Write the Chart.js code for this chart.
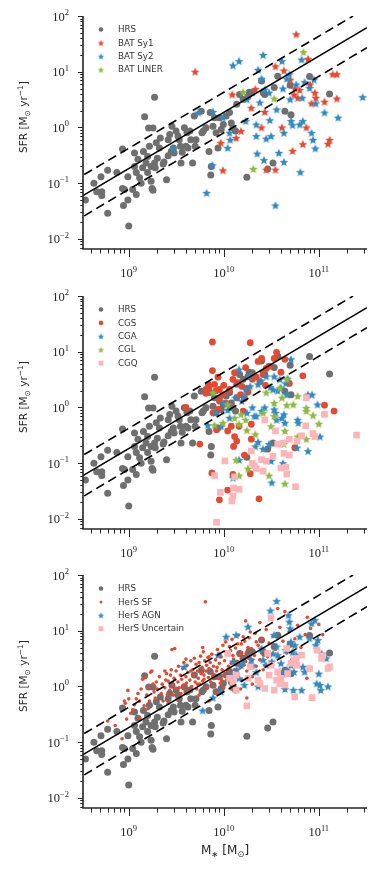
<!DOCTYPE html>
<html>
<head>
<meta charset="utf-8">
<title>SFR vs stellar mass</title>
<script src="https://cdn.jsdelivr.net/npm/chart.js@4.4.1/dist/chart.umd.min.js"></script>
<style>
  html, body { margin: 0; padding: 0; background: #fff; }
  body { position: relative; width: 377px; height: 872px; overflow: hidden; }
  .panel { position: absolute; left: 0; }
</style>
</head>
<body>
<canvas id="panel1" class="panel" width="377" height="290" style="top:0"></canvas>
<canvas id="panel2" class="panel" width="377" height="290" style="top:280px"></canvas>
<canvas id="panel3" class="panel" width="377" height="313" style="top:559px"></canvas>
<script>
// ---- data (stellar mass in Msun, SFR in Msun/yr) ----

// HRS reference sample, shown in every panel
const hrsMass = [3.5e8, 4.3e8, 4.6e8, 5.1e8, 5.2e8, 5.2e8, 6.0e8, 6.0e8, 7.5e8, 8.6e8,
  8.6e8, 8.8e8, 9.0e8, 1.0e9, 9.8e8, 9.8e8, 1.1e9, 1.15e9, 1.15e9, 1.2e9,
  1.2e9, 1.25e9, 1.3e9, 1.35e9, 1.4e9, 1.43e9, 1.47e9, 1.52e9, 1.58e9, 1.58e9,
  1.62e9, 1.65e9, 1.72e9, 1.72e9, 1.76e9, 1.8e9, 1.8e9, 1.87e9, 1.87e9, 1.9e9,
  1.95e9, 2.0e9, 2.1e9, 2.15e9, 2.3e9, 2.35e9, 2.5e9, 2.6e9, 2.6e9, 2.7e9,
  2.8e9, 2.85e9, 2.95e9, 3.0e9, 3.15e9, 3.3e9, 3.4e9, 3.5e9, 3.55e9, 3.65e9,
  3.85e9, 4.0e9, 4.1e9, 4.2e9, 4.4e9, 4.5e9, 4.7e9, 4.9e9, 5.0e9, 5.1e9,
  5.8e9, 5.9e9, 6.1e9, 6.5e9, 7.0e9, 7.2e9, 7.3e9, 7.4e9, 7.7e9, 8.0e9,
  8.3e9, 8.7e9, 9.0e9, 9.4e9, 9.9e9, 1.06e10, 1.15e10, 1.2e10, 1.25e10, 1.33e10,
  1.37e10, 1.47e10, 1.6e10, 1.8e10, 1.75e10, 1.85e10, 2.0e10, 2.5e10, 2.6e10, 2.7e10,
  3.3e10, 3.4e10, 3.7e10, 4.4e10, 5.0e10, 5.1e10, 8.0e10, 1.3e11, 2.9e10];
const hrsSfr = [0.05, 0.10, 0.07, 0.13, 0.07, 0.06, 0.17, 0.029, 0.155, 0.41,
  0.08, 0.04, 0.077, 0.017, 0.05, 0.13, 0.077, 0.2, 0.35, 0.155,
  0.063, 0.27, 0.125, 0.1, 0.19, 0.37, 1.55, 0.23, 0.3, 0.155,
  0.98, 0.46, 0.2, 0.108, 0.08, 0.075, 0.98, 3.5, 0.23, 0.19,
  0.53, 0.28, 0.43, 0.65, 0.22, 0.24, 0.115, 0.6, 0.31, 0.75,
  0.37, 1.05, 0.43, 0.35, 0.86, 0.7, 0.6, 0.46, 0.23, 0.36,
  0.99, 0.46, 0.8, 0.43, 0.86, 0.6, 0.23, 1.6, 0.46, 0.6,
  1.95, 0.8, 0.86, 0.99, 0.37, 1.85, 0.14, 0.2, 1.05, 1.5,
  0.8, 0.43, 1.5, 0.92, 1.13, 1.6, 1.85, 1.2, 0.98, 0.86,
  2.6, 3.9, 3.2, 3.6, 0.128, 4.3, 4.2, 6.8, 4.2, 3.9,
  0.23, 5.2, 8.3, 1.95, 5.7, 1.7, 8.2, 4.0, 0.18];

// panel 1: BAT AGN
const sy1Mass = [5.0e9, 1.23e10, 9.3e9, 9.8e9, 1.35e10, 1.52e10, 1.95e10, 2.15e10, 2.5e10, 2.7e10,
  2.8e10, 3.5e10, 3.5e10, 4.1e10, 4.3e10, 5.0e10, 5.3e10, 5.5e10, 5.6e10, 5.8e10,
  6.0e10, 6.3e10, 6.8e10, 7.4e10, 7.7e10, 8.1e10, 8.4e10, 9.1e10, 9.3e10, 1.15e11,
  1.25e11, 1.3e11, 1.4e11, 1.55e11, 1.55e11];
const sy1Sfr = [10, 3.9, 0.53, 0.17, 0.65, 0.86, 2.25, 4.9, 1.0, 1.9,
  0.175, 0.175, 12.5, 1.0, 10.5, 7.2, 0.38, 3.9, 5.0, 47,
  3.4, 4.7, 0.5, 1.0, 17, 5.9, 2.7, 4.2, 3.4, 2.9,
  0.51, 0.6, 9.0, 9.0, 3.3];
const sy2Mass = [2.95e9, 5.4e9, 6.6e9, 7.6e9, 7.7e9, 9.8e9, 1.1e10, 1.15e10, 1.17e10, 1.25e10,
  1.45e10, 1.7e10, 1.75e10, 2.2e10, 2.2e10, 2.25e10, 2.3e10, 2.4e10, 2.5e10, 2.6e10,
  2.65e10, 2.7e10, 2.8e10, 3.0e10, 3.05e10, 3.15e10, 3.5e10, 3.6e10, 3.8e10, 4.1e10,
  4.2e10, 4.3e10, 4.3e10, 4.6e10, 4.9e10, 5.0e10, 5.1e10, 5.3e10, 5.8e10, 6.3e10,
  6.4e10, 6.6e10, 6.7e10, 6.8e10, 7.1e10, 8.0e10, 8.4e10, 8.7e10, 8.9e10, 9.2e10,
  9.3e10, 1.15e11, 1.6e11, 2.9e11];
const sy2Sfr = [0.42, 1.85, 0.067, 0.21, 1.9, 1.5, 0.43, 0.8, 0.6, 13,
  15.5, 1.3, 3.2, 0.7, 1.13, 0.34, 10.8, 2.8, 7.5, 20,
  0.26, 4.8, 0.63, 4.2, 1.35, 0.7, 0.04, 2.1, 0.35, 15.5,
  5.0, 0.8, 0.24, 7.5, 9.0, 3.2, 1.3, 1.1, 5.9, 1.13,
  0.158, 16.5, 3.4, 1.3, 6.5, 5.1, 0.8, 0.6, 7.2, 0.42,
  2.7, 1.85, 1.5, 3.5];
const linerMass = [1.6e10, 2.05e10, 3.4e10, 6.9e10];
const linerSfr = [4.3, 0.18, 3.3, 22.5];

// panel 2: CG sample
const cgsMass = [5.6e9, 6.5e9, 7.6e9, 7.6e9, 7.5e9, 8.7e9, 8.3e9, 9.0e9, 8.4e9, 9.0e9,
  1.1e10, 1.0e10, 1.05e10, 1.1e10, 1.2e10, 1.25e10, 1.27e10, 1.3e10, 1.3e10, 1.37e10,
  1.4e10, 1.65e10, 1.7e10, 1.75e10, 1.65e10, 1.9e10, 1.9e10, 1.95e10, 1.95e10, 2.0e10,
  2.3e10, 2.35e10, 2.5e10, 2.6e10, 2.75e10, 2.8e10, 3.0e10, 3.4e10, 3.6e10, 4.0e10,
  4.4e10, 4.9e10, 6.8e10, 1.15e11, 1.45e11, 5.6e10, 6.5e9, 8.0e9, 9.0e9, 9.8e9,
  1.15e10, 1.25e10, 1.5e10, 1.6e10, 1.45e10, 1.37e10, 7.7e9, 8.7e9, 6.9e9, 7.0e9,
  1.55e10, 1.8e10, 2.2e10, 2.4e10, 1.2e10, 4.0e9];
const cgsSfr = [0.22, 2.1, 15, 4.6, 0.067, 3.5, 2.0, 1.3, 0.4, 0.022,
  0.033, 2.5, 1.2, 0.38, 0.46, 0.063, 0.2, 0.3, 4.2, 1.5,
  2.8, 1.45, 5.2, 2.2, 0.14, 0.065, 14.5, 0.27, 0.5, 3.2,
  6.7, 0.023, 7.6, 3.9, 2.5, 5.0, 5.5, 7.6, 9.7, 4.3,
  7.3, 2.7, 3.7, 1.1, 0.86, 0.19, 1.8, 2.6, 2.1, 1.7,
  2.1, 3.2, 1.7, 0.86, 0.46, 0.25, 0.8, 0.92, 2.6, 2.3,
  2.4, 1.9, 3.5, 2.9, 1.05, 1.0];
const cgaMass = [6.8e9, 8.3e9, 9.4e9, 1.15e10, 1.2e10, 1.25e10, 1.33e10, 1.45e10, 1.45e10, 1.65e10,
  1.7e10, 1.85e10, 2.0e10, 2.1e10, 2.15e10, 2.3e10, 2.45e10, 2.5e10, 2.6e10, 2.8e10,
  3.0e10, 3.15e10, 3.2e10, 3.3e10, 3.4e10, 3.4e10, 3.6e10, 3.9e10, 4.0e10, 4.3e10,
  4.4e10, 4.2e10, 4.5e10, 4.6e10, 5.1e10, 5.9e10, 6.0e10, 6.1e10, 7.7e10, 7.7e10,
  8.5e10, 9.7e10, 1.03e11, 4.7e10, 1.0e10, 1.1e10, 1.55e10, 1.9e10, 2.2e10, 2.7e10,
  3.1e10, 3.5e10, 3.7e10, 4.1e10, 2.3e10, 1.75e10];
const cgaSfr = [0.48, 0.8, 0.46, 0.65, 1.0, 0.055, 1.5, 0.115, 4.8, 1.6,
  2.1, 3.6, 1.0, 0.7, 0.2, 0.24, 3.0, 0.86, 0.18, 3.6,
  0.22, 0.11, 0.045, 2.1, 3.6, 0.92, 0.6, 3.2, 2.25, 0.75,
  0.53, 0.1, 2.7, 1.7, 7.3, 0.19, 0.6, 0.53, 0.165, 1.7,
  1.7, 1.13, 0.3, 3.3, 1.2, 0.9, 1.3, 2.4, 0.7, 1.0,
  2.3, 0.8, 2.0, 0.65, 2.6, 0.8];
const cglMass = [7.7e9, 8.0e9, 9.8e9, 1.1e10, 1.3e10, 1.35e10, 1.45e10, 1.52e10, 1.45e10, 1.7e10,
  1.8e10, 1.75e10, 2.15e10, 2.6e10, 2.8e10, 3.0e10, 3.15e10, 3.4e10, 3.4e10, 3.9e10,
  4.1e10, 4.3e10, 4.4e10, 4.4e10, 4.6e10, 4.6e10, 5.4e10, 6.0e10, 6.0e10, 7.4e10,
  7.4e10, 7.4e10, 8.7e10, 1.0e11];
const cglSfr = [1.85, 0.48, 0.53, 1.13, 0.65, 0.115, 0.06, 0.75, 0.5, 0.6,
  0.08, 0.39, 0.33, 0.8, 1.85, 0.06, 0.46, 1.2, 0.7, 2.25,
  1.5, 0.22, 0.043, 0.38, 3.2, 1.1, 1.13, 1.6, 0.3, 0.98,
  0.86, 0.27, 0.72, 0.51];
const cgqMass = [8.0e9, 8.4e9, 9.2e9, 1.03e10, 1.22e10, 1.25e10, 1.27e10, 1.3e10, 1.45e10, 1.95e10,
  2.0e10, 2.1e10, 2.2e10, 2.5e10, 2.6e10, 2.7e10, 2.8e10, 3.3e10, 3.5e10, 3.7e10,
  4.0e10, 4.2e10, 4.3e10, 4.5e10, 4.6e10, 4.9e10, 4.9e10, 5.7e10, 5.9e10, 6.6e10,
  7.3e10, 7.4e10, 8.7e10, 9.1e10, 1.15e11, 2.5e11];
const cgqSfr = [0.06, 0.0087, 0.03, 0.11, 0.021, 0.026, 0.036, 0.057, 0.034, 0.165,
  0.1, 0.09, 0.08, 0.116, 0.072, 0.6, 0.109, 0.133, 0.38, 0.22,
  0.082, 0.23, 0.15, 0.085, 0.064, 0.14, 0.27, 0.038, 0.25, 0.31,
  0.47, 1.5, 0.34, 0.3, 0.75, 0.32];

// panel 3: HerS
const sfMass = [6.0e8, 7.2e8, 8.5e8, 9.0e8, 9.2e8, 9.8e8, 1.0e9, 1.05e9, 1.1e9, 9.5e8,
  1.15e9, 1.2e9, 1.25e9, 1.3e9, 1.35e9, 1.4e9, 1.45e9, 1.5e9, 1.55e9, 1.6e9,
  1.65e9, 1.7e9, 1.75e9, 1.8e9, 1.85e9, 1.9e9, 1.95e9, 2.0e9, 1.3e9, 1.6e9,
  2.1e9, 2.2e9, 2.25e9, 2.3e9, 2.4e9, 2.45e9, 2.5e9, 2.55e9, 2.6e9, 2.7e9,
  2.75e9, 2.8e9, 2.85e9, 2.9e9, 2.95e9, 3.0e9, 3.05e9, 3.1e9, 3.15e9, 2.4e9, 2.6e9,
  3.3e9, 3.35e9, 3.4e9, 3.5e9, 3.55e9, 3.6e9, 3.7e9, 3.75e9, 3.8e9, 3.9e9,
  4.0e9, 4.05e9, 4.1e9, 4.2e9, 4.3e9, 4.4e9, 4.5e9, 4.6e9, 4.7e9, 4.8e9,
  4.9e9, 5.0e9, 3.3e9, 4.0e9,
  5.1e9, 5.2e9, 5.3e9, 5.4e9, 5.5e9, 5.6e9, 5.7e9, 5.8e9, 5.9e9, 6.0e9,
  6.1e9, 6.2e9, 6.3e9, 6.4e9, 6.5e9, 6.6e9, 6.7e9, 6.8e9, 6.9e9, 7.0e9,
  7.2e9, 7.3e9, 7.5e9, 7.6e9, 7.8e9, 8.0e9, 5.5e9, 6.0e9, 7.0e9,
  8.2e9, 8.4e9, 8.6e9, 8.8e9, 9.0e9, 9.2e9, 9.4e9, 9.6e9, 9.8e9, 1.0e10,
  1.02e10, 1.05e10, 1.07e10, 1.1e10, 1.12e10, 1.15e10, 1.18e10, 1.2e10, 1.22e10, 1.25e10,
  1.27e10, 1.3e10, 8.5e9, 1.0e10,
  1.33e10, 1.36e10, 1.4e10, 1.43e10, 1.46e10, 1.5e10, 1.53e10, 1.56e10, 1.6e10, 1.63e10,
  1.66e10, 1.7e10, 1.72e10, 1.75e10, 1.8e10, 1.85e10, 1.9e10, 1.95e10, 2.0e10, 1.5e10,
  1.75e10, 7.5e10, 2.0e10, 1.2e10,
  2.1e10, 2.15e10, 2.2e10, 2.3e10, 2.4e10, 2.5e10, 2.6e10, 2.7e10, 2.8e10, 2.9e10,
  3.0e10, 3.1e10, 3.3e10, 3.5e10, 3.7e10, 3.8e10, 3.9e10, 2.4e10,
  4.2e10, 4.4e10, 4.6e10, 4.9e10, 5.2e10, 5.6e10, 6.0e10, 6.5e10, 7.2e10, 7.6e10,
  8.2e10, 9.5e10, 1.1e11, 1.0e11,
  8.5e9, 9.0e9, 9.5e9, 1.05e10, 1.1e10, 1.15e10, 1.25e10, 1.3e10, 1.4e10, 1.45e10,
  1.55e10, 1.6e10, 1.7e10, 1.8e10, 1.9e10, 2.0e10, 2.2e10, 2.5e10, 2.7e10, 3.0e10,
  6.2e9, 7.0e9, 7.7e9, 5.3e9, 4.5e9];
const sfSfr = [0.24, 0.2, 0.115, 0.55, 0.5, 0.85, 0.6, 0.33, 0.38, 0.26,
  0.47, 0.6, 0.75, 0.27, 0.9, 1.35, 0.45, 1.45, 0.7, 0.96,
  0.55, 1.8, 1.9, 1.1, 0.8, 0.62, 1.2, 0.9, 0.55, 0.4,
  1.5, 0.75, 1.1, 0.55, 0.95, 1.3, 1.7, 0.7, 1.25, 0.85,
  1.6, 2.0, 4.6, 1.05, 0.7, 1.4, 4.8, 0.9, 1.9, 1.9, 0.5,
  1.2, 2.3, 0.95, 1.6, 0.75, 1.35, 2.1, 1.05, 2.7, 0.9,
  1.5, 1.15, 2.4, 1.8, 0.8, 1.3, 2.9, 1.0, 2.0, 1.6,
  3.2, 1.2, 0.6, 3.1,
  2.5, 0.9, 1.9, 1.4, 2.7, 1.1, 3.5, 1.7, 2.2, 1.25,
  4.2, 1.6, 2.9, 33, 1.9, 2.4, 0.95, 3.3, 1.45, 2.1,
  2.7, 1.2, 3.8, 1.7, 2.3, 1.0, 0.7, 5.0, 0.55,
  3.0, 1.9, 4.6, 1.4, 2.6, 1.15, 3.4, 2.0, 5.5, 1.6,
  2.9, 6.3, 1.3, 3.8, 2.3, 1.8, 4.4, 2.6, 7.0, 1.5,
  3.1, 2.0, 0.75, 0.95,
  4.9, 2.7, 1.7, 8.4, 3.6, 2.2, 5.8, 1.3, 3.1, 2.4,
  6.5, 15, 4.0, 1.9, 3.3, 7.5, 2.6, 4.8, 1.5, 0.9,
  0.62, 1.4, 1.1, 0.9,
  3.6, 9.0, 2.3, 5.5, 3.0, 7.0, 2.0, 4.2, 10.5, 3.4,
  6.0, 2.6, 8.0, 4.6, 25, 3.3, 11.5, 14,
  6.5, 22, 4.0, 9.5, 3.0, 7.2, 12.5, 5.0, 8.5, 17.5,
  11, 6.0, 8.5, 13,
  2.2, 3.8, 1.3, 4.2, 2.0, 5.2, 3.6, 1.6, 5.8, 2.4,
  4.0, 7.8, 2.8, 5.0, 9.5, 3.0, 6.3, 4.5, 2.4, 3.9,
  1.35, 3.4, 1.45, 1.1, 1.9];
const agnMass = [3.85e9, 6.0e9, 7.7e9, 8.7e9, 9.4e9, 1.06e10, 1.2e10, 1.25e10, 1.35e10, 1.37e10,
  1.45e10, 1.52e10, 1.6e10, 1.65e10, 1.8e10, 1.95e10, 2.0e10, 2.2e10, 2.3e10, 2.5e10,
  2.6e10, 2.8e10, 3.1e10, 3.2e10, 3.3e10, 3.4e10, 3.6e10, 3.6e10, 3.7e10, 3.9e10,
  4.0e10, 4.2e10, 4.4e10, 4.5e10, 4.6e10, 4.8e10, 4.9e10, 5.0e10, 5.1e10, 5.3e10,
  5.4e10, 5.5e10, 5.6e10, 5.8e10, 6.3e10, 6.6e10, 6.8e10, 7.1e10, 8.0e10, 8.4e10,
  9.1e10, 9.3e10, 9.5e10, 9.8e10, 1.0e11, 1.03e11, 1.05e11, 1.07e11, 1.2e11, 1.25e11,
  5.1e10];
const agnSfr = [2.25, 0.37, 0.63, 3.65, 0.8, 7.8, 1.6, 2.8, 8.4, 2.0,
  1.4, 2.4, 2.8, 1.06, 11.8, 3.0, 2.4, 1.8, 1.0, 4.8,
  3.0, 2.4, 23, 2.8, 3.9, 8.4, 34, 5.2, 3.65, 1.83,
  2.6, 1.7, 0.9, 4.5, 2.0, 19, 14.5, 11, 6.3, 4.1,
  0.86, 1.83, 5.5, 3.65, 7.8, 0.86, 2.25, 1.83, 7.3, 13.5,
  15.5, 5.5, 1.13, 6.8, 1.7, 1.06, 0.86, 3.9, 3.2, 1.0,
  2.4];
const uncMass = [3.15e10, 1.1e10, 1.15e10, 1.25e10, 1.35e10, 1.35e10, 1.75e10, 1.8e10, 2.3e10, 2.4e10,
  2.7e10, 2.9e10, 3.0e10, 3.15e10, 3.4e10, 3.6e10, 3.7e10, 3.9e10, 4.0e10, 4.4e10,
  4.6e10, 4.7e10, 5.1e10, 5.5e10, 5.6e10, 5.8e10, 5.9e10, 6.6e10, 8.0e10, 8.5e10,
  9.6e10, 1.07e11, 1.1e11, 1.25e11, 1.3e11, 1.9e10];
const uncSfr = [17, 3.9, 1.4, 1.2, 1.6, 0.86, 0.45, 1.4, 1.3, 1.13,
  0.92, 3.9, 1.6, 2.4, 0.86, 1.3, 1.83, 1.13, 1.4, 1.06,
  4.8, 1.7, 2.6, 3.0, 0.65, 3.2, 2.4, 3.65, 2.1, 0.63,
  4.5, 3.2, 3.55, 2.1, 2.25, 2.25];

// main-sequence relation and its scatter (end points)
const fitMass = [3.3e8, 3.22e11];
const fitSfr = [0.06, 62];
const upperMass = [3.4e8, 2.3e11];
const upperSfr = [0.143, 100];
const lowerMass = [3.4e8, 3.22e11];
const lowerSfr = [0.026, 27];

// axes
const massRange = [3.3e8, 3.22e11];
const sfrRange = [0.0066, 100];
const xTickVals = [1e9, 1e10, 1e11];
const xTickExp = ['9', '10', '11'];
const yTickVals = [1e-2, 1e-1, 1, 10, 100];
const yTickExp = ['\u22122', '\u22121', '0', '1', '2'];

// ---- styling ----
const GRAY = '#6f6f6f', RED = '#E24A33', BLUE = '#348ABD', GREEN = '#8EBA42', PINK = '#FFB5B8';
const INK = '#262626';
const SANS = '"DejaVu Sans", sans-serif';
const SERIF = '"Liberation Serif", "DejaVu Serif", serif';

function pts(xs, ys) {
  return xs.map((x, i) => ({ x: x, y: ys[i] }));
}

function starImage(color, r) {
  const size = Math.ceil(2 * r + 2);
  const c = document.createElement('canvas');
  c.width = size;
  c.height = size;
  const g = c.getContext('2d');
  g.fillStyle = color;
  g.beginPath();
  for (let i = 0; i < 10; i++) {
    const rr = i % 2 === 0 ? r : r * 0.45;
    const a = -Math.PI / 2 + i * Math.PI / 5;
    g.lineTo(size / 2 + rr * Math.cos(a), size / 2 + rr * Math.sin(a) + 0.4);
  }
  g.closePath();
  g.fill();
  return c;
}

const stars = {
  red: starImage(RED, 4.6), blue: starImage(BLUE, 4.6), green: starImage(GREEN, 4.6),
  redS: starImage(RED, 3.4), blueS: starImage(BLUE, 3.4), greenS: starImage(GREEN, 3.4)
};

function markers(label, xs, ys, color, style, radius, order) {
  return {
    label: label, data: pts(xs, ys), pointStyle: style, pointRadius: radius,
    backgroundColor: color, borderWidth: 0, order: order, clip: 0
  };
}

function fitLine(xs, ys, dash) {
  return {
    data: pts(xs, ys), showLine: true, borderColor: '#000', borderWidth: 1.6,
    borderDash: dash, pointRadius: 0, order: 0, clip: 0
  };
}

// text with sub/superscripts, drawn left to right from (x, y) baseline
function richWidth(ctx, parts) {
  let w = 0;
  parts.forEach(p => { ctx.font = p.size + 'px ' + p.family; w += ctx.measureText(p.t).width; });
  return w;
}
function drawRich(ctx, parts, x, y) {
  let cx = x;
  parts.forEach(p => {
    ctx.font = p.size + 'px ' + p.family;
    ctx.fillText(p.t, cx, y + (p.dy || 0));
    cx += ctx.measureText(p.t).width;
  });
}
function powerLabel(exp) {
  return [{ t: '10', size: 12.5, family: SERIF }, { t: exp, size: 8.5, family: SERIF, dy: -5.5 }];
}

const yTitle = [
  { t: 'SFR [M', size: 10.5, family: SANS },
  { t: '\u2299', size: 7.5, family: SANS, dy: 2.5 },
  { t: ' yr', size: 10.5, family: SANS },
  { t: '\u22121', size: 7.5, family: SANS, dy: -4.5 },
  { t: ']', size: 10.5, family: SANS }
];
const xTitle = [
  { t: 'M', size: 12, family: SANS },
  { t: '\u2217', size: 8.5, family: SANS, dy: 3 },
  { t: ' [M', size: 12, family: SANS },
  { t: '\u2299', size: 8.5, family: SANS, dy: 3 },
  { t: ']', size: 12, family: SANS }
];

// spines, log ticks, tick labels, axis titles and the legend
const decor = {
  id: 'decor',
  afterDraw(chart, args, opts) {
    const ctx = chart.ctx, a = chart.chartArea, xs = chart.scales.x, ys = chart.scales.y;
    ctx.save();
    ctx.strokeStyle = INK;
    ctx.fillStyle = INK;
    ctx.lineWidth = 1;

    // y ticks
    for (let k = -3; k <= 2; k++) {
      for (let m = 1; m <= 9; m++) {
        const v = m * Math.pow(10, k);
        if (v < sfrRange[0] || v > sfrRange[1] * 1.0001) continue;
        const py = Math.round(ys.getPixelForValue(v)) + 0.5;
        const len = m === 1 ? 5 : 2.8;
        ctx.beginPath(); ctx.moveTo(a.left, py); ctx.lineTo(a.left - len, py); ctx.stroke();
      }
    }
    // x ticks
    for (let k = 8; k <= 11; k++) {
      for (let m = 1; m <= 9; m++) {
        const v = m * Math.pow(10, k);
        if (v < massRange[0] || v > massRange[1]) continue;
        const px = Math.round(xs.getPixelForValue(v)) + 0.5;
        const len = m === 1 ? 8 : 4.5;
        ctx.beginPath(); ctx.moveTo(px, a.bottom); ctx.lineTo(px, a.bottom + len); ctx.stroke();
      }
    }
    // spines
    ctx.lineWidth = 1.6;
    ctx.beginPath();
    ctx.moveTo(a.left, a.top);
    ctx.lineTo(a.left, a.bottom);
    ctx.lineTo(a.right, a.bottom);
    ctx.stroke();

    ctx.textAlign = 'left';
    ctx.textBaseline = 'alphabetic';
    // y tick labels
    yTickVals.forEach((v, i) => {
      const parts = powerLabel(yTickExp[i]);
      const w = richWidth(ctx, parts);
      drawRich(ctx, parts, a.left - 14 - w, ys.getPixelForValue(v) + 4.5);
    });
    // x tick labels
    xTickVals.forEach((v, i) => {
      const parts = powerLabel(xTickExp[i]);
      const w = richWidth(ctx, parts);
      drawRich(ctx, parts, xs.getPixelForValue(v) - w / 2, a.bottom + 28);
    });

    // y title
    ctx.save();
    ctx.translate(27, a.top + 101);
    ctx.rotate(-Math.PI / 2);
    drawRich(ctx, yTitle, -richWidth(ctx, yTitle) / 2, 0);
    ctx.restore();

    // x title (bottom panel only)
    if (opts.xTitle) {
      drawRich(ctx, xTitle, (a.left + a.right) / 2 - richWidth(ctx, xTitle) / 2, a.bottom + 46);
    }

    // legend
    (opts.legend || []).forEach((item, i) => {
      const ly = a.top + 13.5 + i * 13.4;
      ctx.fillStyle = item.color;
      Chart.helpers.drawPoint(ctx, { pointStyle: item.style, radius: item.radius, rotation: 0, borderWidth: 0 }, 101, ly);
      ctx.fillStyle = '#333';
      ctx.font = '8.7px ' + SANS;
      ctx.textBaseline = 'middle';
      ctx.fillText(item.label, 118, ly + 0.5);
      ctx.textBaseline = 'alphabetic';
    });
    ctx.restore();
  }
};

function makePanel(id, datasets, legend, xAxisHeight, withXTitle) {
  return new Chart(document.getElementById(id), {
    type: 'scatter',
    data: { datasets: datasets },
    options: {
      responsive: false,
      animation: false,
      devicePixelRatio: 1,
      events: [],
      layout: { padding: { top: 16, right: 10, left: 0, bottom: 0 } },
      scales: {
        x: {
          type: 'logarithmic', min: massRange[0], max: massRange[1], bounds: 'data',
          grid: { display: false, drawTicks: false }, border: { display: false },
          ticks: { display: false },
          afterFit: s => { s.height = xAxisHeight; }
        },
        y: {
          type: 'logarithmic', min: sfrRange[0], max: sfrRange[1], bounds: 'data',
          grid: { display: false, drawTicks: false }, border: { display: false },
          ticks: { display: false },
          afterFit: s => { s.width = 83; }
        }
      },
      plugins: {
        legend: { display: false },
        tooltip: { enabled: false },
        decor: { legend: legend, xTitle: withXTitle }
      }
    },
    plugins: [decor]
  });
}

function lines() {
  return [fitLine(fitMass, fitSfr, []), fitLine(upperMass, upperSfr, [9, 5]), fitLine(lowerMass, lowerSfr, [9, 5])];
}

const hrsLegend = { label: 'HRS', color: GRAY, style: 'circle', radius: 2.3 };

makePanel('panel1', [
  markers('HRS', hrsMass, hrsSfr, GRAY, 'circle', 3.5, 5),
  markers('BAT Sy1', sy1Mass, sy1Sfr, RED, stars.red, 4, 4),
  markers('BAT Sy2', sy2Mass, sy2Sfr, BLUE, stars.blue, 4, 3),
  markers('BAT LINER', linerMass, linerSfr, GREEN, stars.green, 4, 2)
].concat(lines()), [
  hrsLegend,
  { label: 'BAT Sy1', color: RED, style: stars.redS, radius: 3 },
  { label: 'BAT Sy2', color: BLUE, style: stars.blueS, radius: 3 },
  { label: 'BAT LINER', color: GREEN, style: stars.greenS, radius: 3 }
], 41, false);

makePanel('panel2', [
  markers('HRS', hrsMass, hrsSfr, GRAY, 'circle', 3.5, 6),
  markers('CGS', cgsMass, cgsSfr, RED, 'circle', 3.4, 5),
  markers('CGA', cgaMass, cgaSfr, BLUE, stars.blue, 4, 4),
  markers('CGL', cglMass, cglSfr, GREEN, stars.green, 4, 3),
  markers('CGQ', cgqMass, cgqSfr, PINK, 'rect', 4.7, 2)
].concat(lines()), [
  hrsLegend,
  { label: 'CGS', color: RED, style: 'circle', radius: 2.3 },
  { label: 'CGA', color: BLUE, style: stars.blueS, radius: 3 },
  { label: 'CGL', color: GREEN, style: stars.greenS, radius: 3 },
  { label: 'CGQ', color: PINK, style: 'rect', radius: 3.4 }
], 41, false);

makePanel('panel3', [
  markers('HRS', hrsMass, hrsSfr, GRAY, 'circle', 3.5, 5),
  markers('HerS SF', sfMass, sfSfr, RED, 'circle', 1.8, 4),
  markers('HerS AGN', agnMass, agnSfr, BLUE, stars.blue, 4, 3),
  markers('HerS Uncertain', uncMass, uncSfr, PINK, 'rect', 4.7, 2)
].concat(lines()), [
  hrsLegend,
  { label: 'HerS SF', color: RED, style: 'circle', radius: 1.5 },
  { label: 'HerS AGN', color: BLUE, style: stars.blueS, radius: 3 },
  { label: 'HerS Uncertain', color: PINK, style: 'rect', radius: 3.4 }
], 64, true);
</script>
</body>
</html>
